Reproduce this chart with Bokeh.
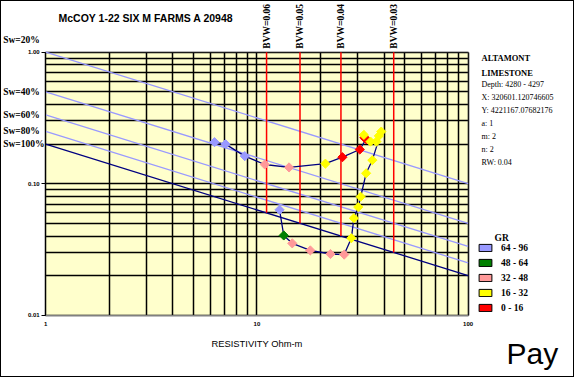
import math
from bokeh.plotting import figure
from bokeh.models import (Range1d, FixedTicker, Label, Legend, LegendItem, ColumnDataSource,
                          BoxAnnotation)
from bokeh.embed import file_html
from bokeh.resources import INLINE

# ---------------- data ----------------
title_text = "McCOY 1-22 SIX M FARMS A 20948"
x_axis_title = "RESISTIVITY Ohm-m"

resistivity = [6.30, 7.10, 8.76, 10.9, 14.2, 21.1, 25.4, 30.7, 32.9, 32.3, 32.1,
               34.5, 36.8, 37.8, 38.8, 35.2, 32.9, 31.0, 30.2, 28.8, 28.0,
               25.9, 22.3, 17.9, 14.7, 13.4, 12.8]
porosity = [0.207, 0.200, 0.162, 0.140, 0.133, 0.142, 0.159, 0.182, 0.218, 0.224, 0.235,
            0.209, 0.209, 0.231, 0.249, 0.151, 0.120, 0.0796, 0.0664, 0.0547, 0.0385,
            0.0289, 0.0292, 0.0311, 0.0352, 0.0404, 0.0633]
gr = [72, 70, 68, 40, 38, 26, 12, 10, 8, 9, 20,
      22, 24, 25, 27, 24, 22, 21, 20, 22, 24,
      36, 38, 40, 42, 52, 66]

gr_bins = [0, 16, 32, 48, 64, 96]
gr_colors = ["#FF0000", "#FFFF00", "#FF9999", "#008000", "#9999FF"]
gr_labels = ["0 - 16", "16 - 32", "32 - 48", "48 - 64", "64 - 96"]

a_const, m_exp, n_exp, rw = 1, 2, 2, 0.04
sw_values = [0.2, 0.4, 0.6, 0.8, 1.0]
sw_labels = ["Sw=20%", "Sw=40%", "Sw=60%", "Sw=80%", "Sw=100%"]
bvw_values = [0.06, 0.05, 0.04, 0.03]
bvw_labels = ["BVW=0.06", "BVW=0.05", "BVW=0.04", "BVW=0.03"]

info_lines = ["ALTAMONT", "LIMESTONE", "Depth: 4280 - 4297", "X: 320601.120746605",
              "Y: 4221167.07682176", "a: 1", "m: 2", "n: 2", "RW: 0.04"]
info_bold = [True, True, False, False, False, False, False, False, False]

x_ticks = [1, 10, 100]
x_tick_labels = ["1", "10", "100"]
x_minor = [2, 3, 4, 5, 6, 7, 8, 9, 20, 30, 40, 50, 60, 70, 80, 90]
y_ticks = [0.01, 0.1, 1]
y_tick_labels = ["0.01", "0.10", "1.00"]
y_minor = [0.02, 0.03, 0.04, 0.05, 0.06, 0.07, 0.08, 0.09,
           0.2, 0.3, 0.4, 0.5, 0.6, 0.7, 0.8, 0.9]
pay_text = "Pay"

# ---------------- layout (pixels inside the canvas) ----------------
W, H = 574, 377
PL, PR, PT, PB = 44.2, 466.6, 50.7, 313.7
SERIF = "Liberation Serif"
SANS = "Liberation Sans"
INK = "black"
X0, X1 = 1, 100
Y0, Y1 = 0.01, 1

lx0, lx1 = math.log10(X0), math.log10(X1)
ly0, ly1 = math.log10(Y0), math.log10(Y1)
dx = (PR - PL) / (lx1 - lx0)
dy = (PB - PT) / (ly1 - ly0)
x_range = Range1d(10 ** (lx0 - PL / dx), 10 ** (lx1 + (W - PR) / dx))
y_range = Range1d(10 ** (ly0 - (H - PB) / dy), 10 ** (ly1 + PT / dy))

p = figure(width=W, height=H, x_axis_type="log", y_axis_type="log",
           x_range=x_range, y_range=y_range,
           output_backend="svg", toolbar_location=None,
           min_border=0, min_border_left=0, min_border_right=0,
           min_border_top=0, min_border_bottom=0)
p.styles = {"border": "1px solid black"}
p.background_fill_color = "white"
p.border_fill_color = "white"
p.outline_line_color = None

# chart area fill
p.add_layout(BoxAnnotation(left=X0, right=X1, bottom=Y0, top=Y1, fill_color="#FFFFCC",
                           fill_alpha=1, line_color=None, level="image"))

p.xaxis.ticker = FixedTicker(ticks=x_ticks, minor_ticks=x_minor)
p.yaxis.ticker = FixedTicker(ticks=y_ticks, minor_ticks=y_minor)
p.xaxis.major_label_overrides = {t: l for t, l in zip(x_ticks, x_tick_labels)}
p.yaxis.major_label_overrides = {t: l for t, l in zip(y_ticks, y_tick_labels)}
p.xaxis.fixed_location = Y0
p.yaxis.fixed_location = X0
p.xaxis.bounds = (X0, X1)
p.yaxis.bounds = (Y0, Y1)
for ax in (p.xaxis, p.yaxis):
    ax.major_label_text_font = SANS
    ax.major_label_text_font_size = "6px"
    ax.major_label_text_font_style = "bold"
    ax.major_label_text_color = INK
    ax.minor_tick_line_color = None
    ax.major_tick_in = 0
p.xaxis.major_tick_out = 0
p.yaxis.major_tick_out = 4
p.xaxis.major_label_standoff = 3
p.yaxis.major_label_standoff = 2
p.xaxis.axis_line_color = "#808080"
p.yaxis.axis_line_color = "black"
p.xaxis.axis_label = x_axis_title
p.xaxis.axis_label_text_font = SANS
p.xaxis.axis_label_text_font_size = "9.4px"
p.xaxis.axis_label_text_font_style = "normal"
p.xaxis.axis_label_text_color = INK
p.xaxis.axis_label_standoff = 8

p.xgrid.bounds = (X0, X1)
p.ygrid.bounds = (Y0, Y1)
p.xgrid.cross_bounds = (Y0, Y1)
p.ygrid.cross_bounds = (X0, X1)
for g in (p.xgrid, p.ygrid):
    g.grid_line_color = "black"
    g.grid_line_width = 1.5
    g.grid_line_alpha = 1
    g.minor_grid_line_color = "black"
    g.minor_grid_line_width = 1.5

# frame outline
p.add_layout(BoxAnnotation(left=X0, right=X1, bottom=Y0, top=Y1, fill_alpha=0,
                           line_color="#808080", line_width=1, level="underlay"))

# Sw lines (Archie)
def phi_for(rt, sw):
    return (a_const * rw / (rt * sw ** n_exp)) ** (1.0 / m_exp)

for sw in sw_values:
    col = "#000080" if sw == 1.0 else "#9999FF"
    p.line([X0, X1], [phi_for(X0, sw), phi_for(X1, sw)], line_color=col, line_width=1.3)

# BVW lines
for bvw in bvw_values:
    rt = a_const * rw / bvw ** 2
    p.line([rt, rt], [bvw, Y1], line_color="#FF0000", line_width=1.5)

# data path + points
def gr_color(v):
    for i in range(len(gr_colors)):
        if gr_bins[i] <= v < gr_bins[i + 1]:
            return gr_colors[i]
    return gr_colors[-1]

src = ColumnDataSource(dict(x=resistivity, y=porosity, c=[gr_color(v) for v in gr]))
p.line("x", "y", source=src, line_color="#000080", line_width=1.3)
p.scatter("x", "y", source=src, marker="square", angle=math.pi / 4, size=6.5,
          fill_color="c", line_color="c")

# legend (rectangular swatches; renderers hold no visible data)
nan = float("nan")
items = []
for lab, col in zip(gr_labels, gr_colors):
    r = p.quad(left=[nan], right=[nan], top=[nan], bottom=[nan], fill_color=col,
               line_color="black", line_width=1)
    items.append(LegendItem(label=lab, renderers=[r]))
items.reverse()
legend = Legend(items=items, location=(476, H - 311.5), orientation="vertical",
                glyph_width=16, glyph_height=9, label_height=9, spacing=5,
                padding=0, margin=0, label_standoff=8,
                label_text_font=SERIF, label_text_font_style="bold", label_text_font_size="9.5px",
                label_text_color=INK, border_line_alpha=0, background_fill_alpha=0)
p.add_layout(legend)
p.add_layout(Label(x=X1, y=Y0, x_offset=493 - PR, y_offset=PB - 236, text="GR", text_font=SERIF,
                   text_font_style="bold", text_font_size="9.5px", text_baseline="middle",
                   text_color=INK))

# title
p.add_layout(Label(x=X0, y=Y1, x_offset=57 - PL, y_offset=PT - 16.5, text=title_text,
                   text_font=SANS, text_font_style="bold", text_font_size="10.5px",
                   text_align="left", text_baseline="middle", text_color=INK))

# Sw labels
sw_label_dy = [12, 0, 0, 0, 0]
for sw, lab, ddy in zip(sw_values, sw_labels, sw_label_dy):
    p.add_layout(Label(x=X0, y=phi_for(X0, sw), x_offset=1.7 - PL, y_offset=ddy, text=lab,
                       text_font=SERIF, text_font_style="bold", text_font_size="9.5px",
                       text_baseline="middle", text_color=INK))

# BVW labels
for bvw, lab in zip(bvw_values, bvw_labels):
    rt = a_const * rw / bvw ** 2
    p.add_layout(Label(x=rt, y=Y1, y_offset=3.5, angle=90, angle_units="deg", text=lab,
                       text_font=SERIF, text_font_style="bold", text_font_size="9.5px",
                       text_align="left", text_baseline="middle", text_color=INK))

# info panel
info_y = [56, 71, 83, 96, 109, 122, 135, 148, 161]
for line, bold, yy in zip(info_lines, info_bold, info_y):
    p.add_layout(Label(x=X1, y=Y1, x_offset=480 - PR, y_offset=PT - yy, text=line,
                       text_font=SERIF, text_font_style="bold" if bold else "normal",
                       text_font_size="8.5px" if bold else "8px", text_baseline="middle",
                       text_color=INK))

# Pay
p.add_layout(Label(x=X1, y=Y0, x_offset=505 - PR, y_offset=PB - 352, text=pay_text,
                   text_font=SANS, text_font_size="30px", text_baseline="middle",
                   text_color=INK))

open("out.html", "w").write(file_html(p, INLINE))
